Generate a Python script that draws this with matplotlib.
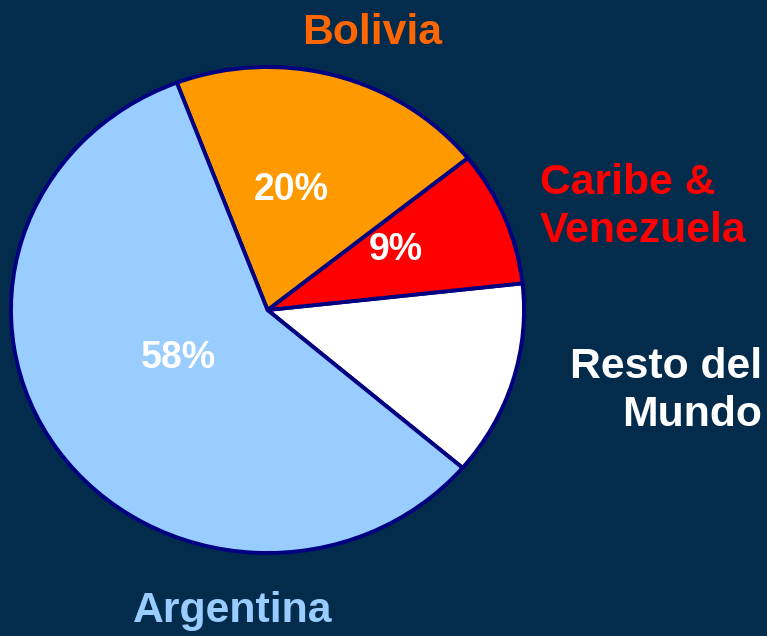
import matplotlib.pyplot as plt

# Data
labels = ['Resto del\nMundo', 'Caribe &\nVenezuela', 'Bolivia', 'Argentina']
shares = [13, 9, 20, 58]
pct_text = ['', '9%', '20%', '58%']
colors = ['#FFFFFF', '#FF0000', '#FF9900', '#99CCFF']
label_colors = ['#FFFFFF', '#FF0000', '#FF6600', '#99CCFF']

bg = '#022B4C'
plt.rcParams['font.family'] = ['Liberation Sans', 'DejaVu Sans']

fig = plt.figure(figsize=(7.67, 6.36), dpi=100, facecolor=bg)
# pie is slightly wider than tall in the reference
ax = fig.add_axes([11 / 767, 83 / 636, 513 / 767, 486 / 636])
ax.set_facecolor(bg)

wedges, _ = ax.pie(shares, colors=colors, startangle=-40.5, counterclock=True,
                   wedgeprops=dict(edgecolor='#000080', linewidth=2.8))
ax.set_aspect('auto')
ax.set_xlim(-1, 1)
ax.set_ylim(-1, 1)
ax.axis('off')

# percentage labels (figure pixel positions)
pct_pos = [None, (396, 250), (291, 190), (178, 358)]
for t, p in zip(pct_text, pct_pos):
    if p is None:
        continue
    fig.text(p[0] / 767, 1 - p[1] / 636, t, color='white', fontsize=27,
             fontweight='bold', ha='center', va='center')

# category labels
fs = 30.8
fig.text(372 / 767, 1 - 33 / 636, labels[2], color=label_colors[2], fontsize=fs,
         fontweight='bold', ha='center', va='center')
fig.text(540 / 767, 1 - 207 / 636, labels[1], color=label_colors[1], fontsize=fs,
         fontweight='bold', ha='left', va='center', linespacing=1.28)
fig.text(762 / 767, 1 - 391 / 636, labels[0], color=label_colors[0], fontsize=fs,
         fontweight='bold', ha='right', va='center', linespacing=1.28, multialignment='right')
fig.text(233 / 767, 1 - 611 / 636, labels[3], color=label_colors[3], fontsize=fs,
         fontweight='bold', ha='center', va='center')

fig.savefig('out.png', dpi=100, facecolor=bg)
